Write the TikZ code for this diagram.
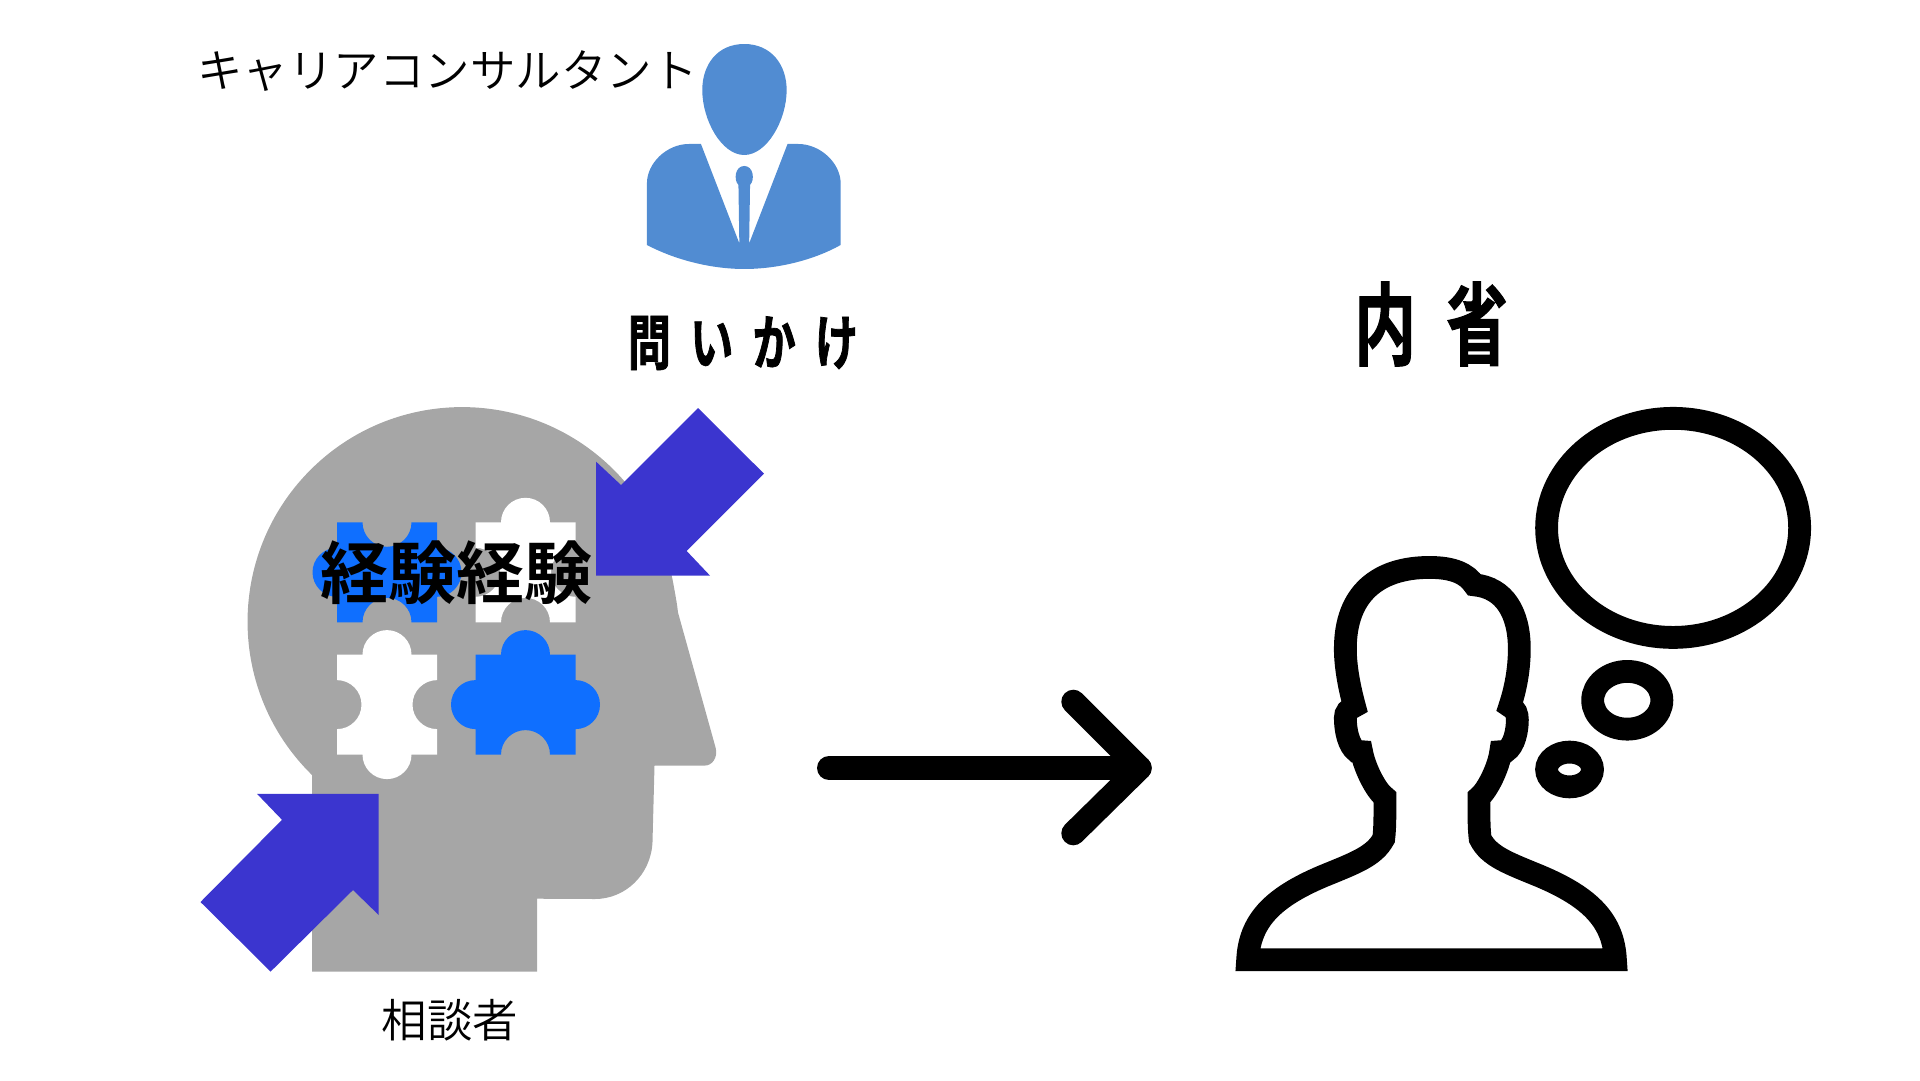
\documentclass[tikz,border=0pt]{standalone}
\usepackage{fontspec}
\newfontfamily\jplight{Noto Sans CJK JP DemiLight}
\newfontfamily\jpbold[BoldFont={Noto Sans CJK JP Bold}]{Noto Sans CJK JP}
\newfontfamily\jpcond[FakeStretch=0.72,LetterSpace=32,FakeBold=1.2]{Noto Sans CJK JP Bold}
\newfontfamily\jpcondb[FakeStretch=0.68,LetterSpace=34,FakeBold=1.2]{Noto Sans CJK JP Bold}
\definecolor{headgrey}{HTML}{A6A6A6}
\definecolor{puzzleblue}{HTML}{0F6FFF}
\definecolor{arrowblue}{HTML}{3B35CF}
\definecolor{suitblue}{HTML}{518CD2}
\tikzset{
  lbl/.style={inner sep=0pt,anchor=center,text=black},
  ink/.style={draw=black,line width=22.8pt,fill=none,miter limit=10},
  bigarrow/.style={draw=black,line width=24pt,line cap=round,line join=round},
  dblue/.style={fill=arrowblue,draw=none}
}
% #1 x, #2 y, #3 colour, #4 top, #5 right, #6 bottom, #7 left (1 tab, -1 notch)
\newcommand{\jigsaw}[7]{%
  \fill[#3] (#1,#2) -- ++(25.5,0) arc[start angle=180,delta angle=#4*180,radius=24.5]
    -- (#1+100,#2) -- ++(0,25.5) arc[start angle=-90,delta angle=#5*180,radius=24.5]
    -- (#1+100,#2+100) -- ++(-25.5,0) arc[start angle=0,delta angle=#6*180,radius=24.5]
    -- (#1,#2+100) -- ++(0,-25.5) arc[start angle=90,delta angle=#7*180,radius=24.5]
    -- cycle;}
\begin{document}
\begin{tikzpicture}[x=1pt,y=1pt,yscale=-1]
\useasboundingbox (0,0) rectangle (1920,1080);
% head
\fill[headgrey] (312,971.6) -- (312,775)
  arc[start angle=134.4,end angle=349.3,radius=214.6]
  .. controls (675,593) and (677,603) .. (678,612.5) -- (715.7,748)
  .. controls (718,758) and (712,765.6) .. (704.5,765.6) -- (654.5,765.6) -- (652.5,842)
  .. controls (651,875) and (625,899) .. (595,899) -- (537,898.7) -- (537,971.6) -- cycle;
% puzzle
\jigsaw{337}{522.3}{puzzleblue}{-1}{1}{-1}{1}
\jigsaw{475.5}{522.3}{white}{1}{-1}{-1}{-1}
\jigsaw{337}{654.6}{white}{1}{-1}{1}{-1}
\jigsaw{475.5}{654.6}{puzzleblue}{1}{1}{-1}{1}
% blue arrows
\fill[dblue] (698,408) -- (764,473.7) -- (686.7,551) -- (710,575.6) -- (596,575.6) -- (596,461.6) -- (621,485) -- cycle;
\fill[dblue] (257,793.8) -- (378.7,793.8) -- (378.7,915) -- (353,890) -- (270.6,971.6) -- (200.5,902) -- (282,819.8) -- cycle;
% suit person
\begin{scope}[shift={(180,20)},xscale=0.4464,yscale=0.3333]
\fill[suitblue] (1264,72) .. controls (1325,72) and (1359,135) .. (1359,210)
  .. controls (1359,300) and (1315,405) .. (1264,405)
  .. controls (1213,405) and (1170,300) .. (1170,210)
  .. controls (1170,135) and (1203,72) .. (1264,72) -- cycle;
\fill[suitblue] (1046,675) -- (1046,490) .. controls (1046,430) and (1090,372) .. (1140,372) -- (1167,372)
  -- (1253,670) -- (1251,495) .. controls (1240,480) and (1243,438) .. (1264,438)
  .. controls (1285,438) and (1288,480) .. (1277,495) -- (1275,670) -- (1361,372) -- (1385,372)
  .. controls (1435,372) and (1480,430) .. (1480,490) -- (1480,675)
  .. controls (1420,720) and (1340,747) .. (1264,747)
  .. controls (1190,747) and (1110,720) .. (1046,675) -- cycle;
\end{scope}
% thinker
\begin{scope}[shift={(1220,380)},scale=0.3954]
\draw[ink] (70,1466) .. controls (75,1370) and (130,1310) .. (260,1255)
  .. controls (340,1222) and (390,1205) .. (414,1160)
  .. controls (418,1130) and (417,1080) .. (417,1055)
  .. controls (395,1040) and (365,980) .. (358,940)
  -- (345,939) .. controls (325,925) and (317,885) .. (317,855)
  .. controls (317,840) and (325,832) .. (340,825)
  .. controls (325,770) and (317,720) .. (317,680)
  .. controls (317,540) and (400,474) .. (530,474)
  .. controls (590,474) and (625,490) .. (643,518)
  .. controls (720,525) and (757,590) .. (757,680)
  .. controls (757,730) and (748,780) .. (733,825)
  .. controls (748,832) and (752,845) .. (752,860)
  .. controls (752,885) and (745,925) .. (723,939)
  -- (710,940) .. controls (705,980) and (675,1040) .. (655,1055)
  .. controls (655,1080) and (654,1130) .. (658,1160)
  .. controls (680,1205) and (730,1222) .. (810,1255)
  .. controls (940,1310) and (995,1370) .. (1000,1466) -- cycle;
\draw[ink] (1146,374) ellipse[x radius=320,y radius=277];
\draw[ink] (1030,810) ellipse[x radius=87.5,y radius=73];
\draw[ink] (884,985) ellipse[x radius=58,y radius=44];
\end{scope}
% connector
\coordinate (arrowstart) at (829,768);
\coordinate (arrowtip) at (1139.7,768);
\coordinate (wingtop) at (1073.3,701.7);
\coordinate (wingbot) at (1073.3,833.3);
\draw[bigarrow] (arrowstart) -- (arrowtip);
\draw[bigarrow] (wingtop) -- (arrowtip) -- (wingbot);
% labels
\node[lbl] (consultant) at (447.5,71) {\fontsize{45.5pt}{50pt}\jplight キャリアコンサルタント};
\node[lbl] (client) at (450,1020) {\fontsize{45.5pt}{50pt}\jplight 相談者};
\node[lbl] (exp) at (456,573) {\fontsize{68pt}{72pt}\jpbold\bfseries 経験経験};
\node[lbl] (question) at (743,343) {\fontsize{60pt}{62pt}\jpcond 問いかけ};
\node[lbl] (intro) at (1431,324) {\fontsize{90pt}{94pt}\jpcondb 内省};
\end{tikzpicture}
\end{document}
